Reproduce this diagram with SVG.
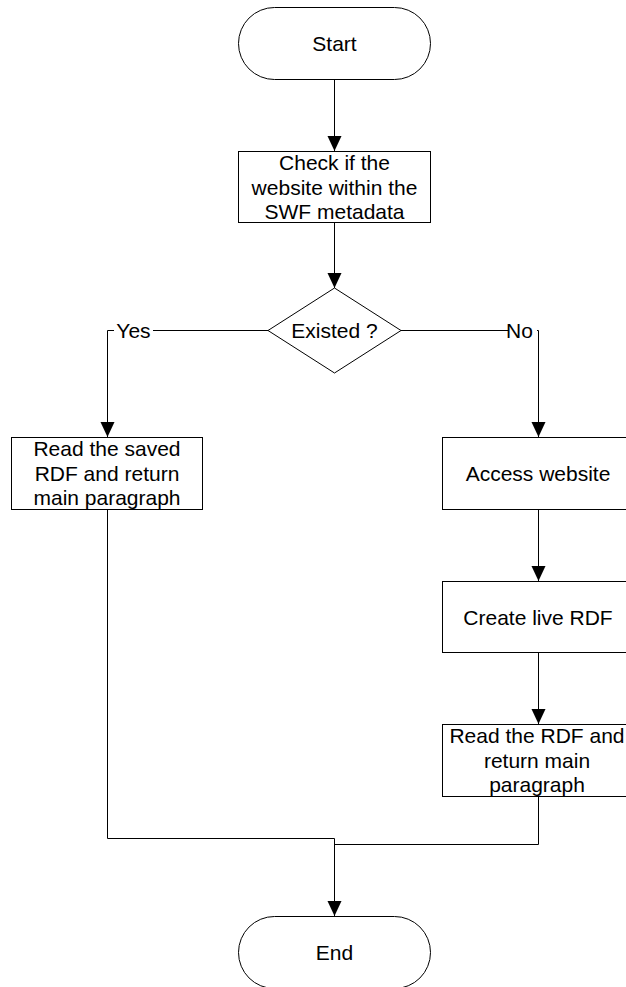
<svg xmlns="http://www.w3.org/2000/svg" width="626" height="987" viewBox="0 0 626 987">
<style>
.shape{fill:#fff;stroke:#000;stroke-width:1}
.conn{fill:none;stroke:#000;stroke-width:1}
text{font-family:"Liberation Sans",Arial,sans-serif;font-size:21px;fill:#000;text-anchor:middle}
.lblbg{fill:#fff;stroke:none}
</style>
<defs>
<marker id="arr" markerUnits="userSpaceOnUse" markerWidth="14" markerHeight="16" viewBox="0 0 14 16" refX="7" refY="15" orient="auto-start-reverse">
<path d="M0,0 L14,0 L7,15 Z" fill="#000" transform="rotate(0)"/>
</marker>
</defs>
<rect width="626" height="987" fill="#fff"/>
<g id="connectors">
<path class="conn" d="M334.5,79 V151"/>
<path class="conn" d="M334.5,222 V288"/>
<path class="conn" d="M268,330.5 H107.5 V437"/>
<path class="conn" d="M401,330.5 H538.5 V437"/>
<path class="conn" d="M538.5,509 V581"/>
<path class="conn" d="M538.5,652 V724"/>
<path class="conn" d="M107.5,509 V838.5 H334.5 V916"/>
<path class="conn" d="M538.5,796 V844.5 H334.5"/>
<g id="arrowheads">
<path d="M327.5,136 H341.5 L334.5,151 Z"/>
<path d="M327.5,273 H341.5 L334.5,288 Z"/>
<path d="M100.5,422 H114.5 L107.5,437 Z"/>
<path d="M531.5,422 H545.5 L538.5,437 Z"/>
<path d="M531.5,566 H545.5 L538.5,581 Z"/>
<path d="M531.5,709 H545.5 L538.5,724 Z"/>
<path d="M327.5,901 H341.5 L334.5,916 Z"/>
</g>
<g id="label-yes">
<rect class="lblbg" x="114" y="320" width="39" height="22"/>
<text x="133.5" y="338">Yes</text>
</g>
<g id="label-no">
<rect class="lblbg" x="509" y="320" width="28" height="22"/>
<text x="519.5" y="338">No</text>
</g>
</g>
<g id="start">
<rect class="shape" x="238.5" y="7.5" width="192" height="72" rx="36" ry="36"/>
<text x="334.5" y="51">Start</text>
</g>
<g id="check">
<rect class="shape" x="238.5" y="151.5" width="192" height="71"/>
<text x="334.5" y="169.5">Check if the</text>
<text x="334.5" y="194.5">website within the</text>
<text x="334.5" y="219">SWF metadata</text>
</g>
<g id="existed">
<polygon class="shape" points="334.5,288 401,330.5 334.5,373 268,330.5"/>
<text x="334.5" y="338">Existed ?</text>
</g>
<g id="read-saved">
<rect class="shape" x="11.5" y="437.5" width="191" height="72"/>
<text x="107" y="455.5">Read the saved</text>
<text x="107" y="480.5">RDF and return</text>
<text x="107" y="505">main paragraph</text>
</g>
<g id="access">
<rect class="shape" x="442.5" y="437.5" width="192" height="72"/>
<text x="538" y="481">Access website</text>
</g>
<g id="create">
<rect class="shape" x="442.5" y="581.5" width="192" height="71"/>
<text x="538" y="624.5">Create live RDF</text>
</g>
<g id="read-rdf">
<rect class="shape" x="442.5" y="724.5" width="192" height="72"/>
<text x="537" y="742.5">Read the RDF and</text>
<text x="537" y="767.5">return main</text>
<text x="537" y="792">paragraph</text>
</g>
<g id="end">
<rect class="shape" x="238.5" y="916.5" width="192" height="72" rx="36" ry="36"/>
<text x="334.5" y="960">End</text>
</g>
</svg>
